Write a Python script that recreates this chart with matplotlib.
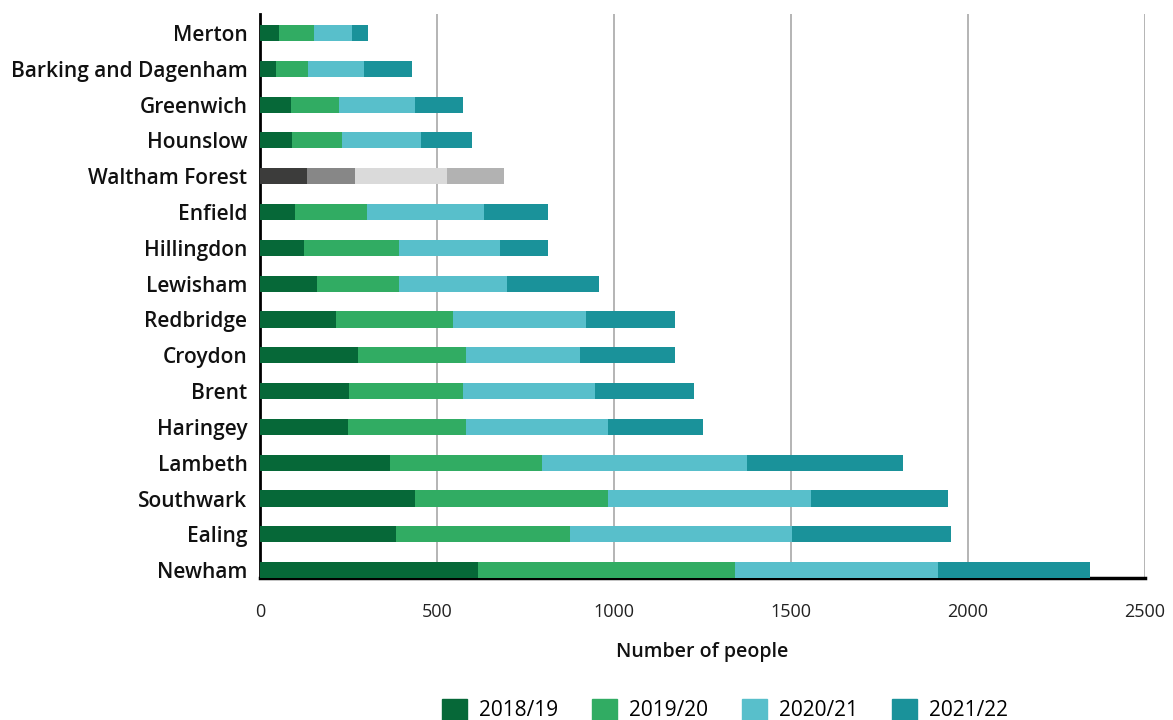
import matplotlib
matplotlib.use("Agg")
import matplotlib.pyplot as plt
import numpy as np

boroughs = ["Newham", "Ealing", "Southwark", "Lambeth", "Haringey", "Brent",
            "Croydon", "Redbridge", "Lewisham", "Hillingdon", "Enfield",
            "Waltham Forest", "Hounslow", "Greenwich", "Barking and Dagenham", "Merton"]
y2018 = [616, 384, 438, 367, 249, 251, 277, 215, 161, 124, 99, 133, 90, 88, 45, 54]
y2019 = [726, 492, 545, 430, 333, 322, 305, 330, 232, 269, 203, 135, 141, 135, 91, 99]
y2020 = [573, 627, 573, 579, 401, 373, 322, 376, 305, 285, 330, 260, 223, 215, 158, 107]
y2021 = [430, 449, 388, 440, 268, 280, 268, 251, 259, 135, 181, 161, 144, 135, 135, 45]
series_labels = ["2018/19", "2019/20", "2020/21", "2021/22"]
colors = ["#066838", "#31AC63", "#58BFCB", "#1A929A"]
grey_colors = ["#3C3C3B", "#878787", "#DADADA", "#B2B2B2"]
highlight = "Waltham Forest"

plt.rcParams['font.family'] = ['Open Sans', 'DejaVu Sans']

fig = plt.figure(figsize=(11.73, 7.2), dpi=100)
ax = fig.add_axes([260/1173, 1-578/720, (1145-260)/1173, (578-14)/720])

data = [y2018, y2019, y2020, y2021]
ypos = np.arange(len(boroughs))
left = np.zeros(len(boroughs))
handles = []
for i, vals in enumerate(data):
    vals = np.array(vals, dtype=float)
    cols = [grey_colors[i] if b == highlight else colors[i] for b in boroughs]
    ax.barh(ypos, vals, left=left, height=0.45, color=cols, label=series_labels[i], zorder=3)
    handles.append(plt.Rectangle((0, 0), 1, 1, color=colors[i]))
    left += vals

ax.set_xlim(0, 2500)
ax.set_ylim(-0.22, 15.53)
ax.set_xticks([0, 500, 1000, 1500, 2000, 2500])
ax.xaxis.grid(True, color="#A8A8A8", linewidth=1.2, zorder=0)
ax.set_yticks(ypos)
ax.set_yticklabels(boroughs, fontsize=15, fontweight='semibold', color="#111111")
ax.tick_params(axis='y', length=0, pad=9)
ax.tick_params(axis='x', length=0, pad=18, labelsize=13, colors="#222222")
for s in ["top", "right"]:
    ax.spines[s].set_visible(False)
ax.spines["left"].set_linewidth(2)
ax.spines["bottom"].set_linewidth(2.5)
ax.spines["left"].set_color("black")
ax.spines["bottom"].set_color("black")
ax.set_xlabel("Number of people", fontsize=14, fontweight='semibold', labelpad=15, color="#111111")

fig.legend(handles, series_labels, loc="center", bbox_to_anchor=(725/1173, 1-710/720), ncol=4,
           frameon=False, fontsize=15, handlelength=1.2, handleheight=1.2, columnspacing=1.6,
           handletextpad=0.6)

fig.savefig("out.png", dpi=100)
